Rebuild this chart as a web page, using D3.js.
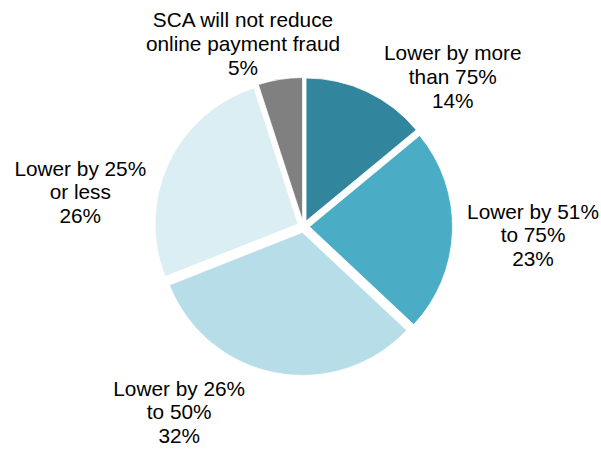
<!DOCTYPE html>
<html>
<head>
<meta charset="utf-8">
<script src="https://cdn.jsdelivr.net/npm/d3@7"></script>
<style>
  html, body { margin: 0; padding: 0; background: #fff; }
  svg { display: block; }
</style>
</head>
<body>
<svg id="chart" width="601" height="449"></svg>
<script>
// Data
const categories = [
  "Lower by more than 75%",
  "Lower by 51% to 75%",
  "Lower by 26% to 50%",
  "Lower by 25% or less",
  "SCA will not reduce online payment fraud"
];
const values = [14, 23, 32, 26, 5];
const labelLines = [
  ["Lower by more", "than 75%", "14%"],
  ["Lower by 51%", "to 75%", "23%"],
  ["Lower by 26%", "to 50%", "32%"],
  ["Lower by 25%", "or less", "26%"],
  ["SCA will not reduce", "online payment fraud", "5%"]
];
const colors = ["#31859C", "#4BACC6", "#B7DDE8", "#DAEEF3", "#808080"];

// Layout
const cx = 303.5, cy = 226.5, radius = 143, explode = 6;
const labelAnchors = [[452.8, 60.3], [533, 218.5], [179.2, 395.5], [80.3, 175.5], [243, 27.3]];
const lineH = 23.6;

const svg = d3.select("#chart");
const g = svg.append("g").attr("transform", `translate(${cx},${cy})`);

const pie = d3.pie().sort(null).value(d => d)(values);
const arc = d3.arc().innerRadius(0).outerRadius(radius);

g.selectAll("path")
  .data(pie)
  .join("path")
  .attr("d", arc)
  .attr("fill", (d, i) => colors[i])
  .attr("stroke", "#fff")
  .attr("stroke-width", 0.75)
  .attr("transform", d => {
    const a = (d.startAngle + d.endAngle) / 2;
    return `translate(${explode * Math.sin(a)},${-explode * Math.cos(a)})`;
  });

const labels = svg.selectAll("text.lbl")
  .data(labelLines)
  .join("text")
  .attr("class", "lbl")
  .attr("text-anchor", "middle")
  .attr("font-family", "Liberation Sans, Arial, sans-serif")
  .attr("font-size", 20.8)
  .attr("fill", "#000")
  .attr("x", (d, i) => labelAnchors[i][0])
  .attr("y", (d, i) => labelAnchors[i][1]);

labels.each(function(lines, i) {
  const t = d3.select(this);
  lines.forEach((line, j) => {
    t.append("tspan")
      .attr("x", labelAnchors[i][0])
      .attr("y", labelAnchors[i][1] + j * lineH)
      .text(line);
  });
});
</script>
</body>
</html>
